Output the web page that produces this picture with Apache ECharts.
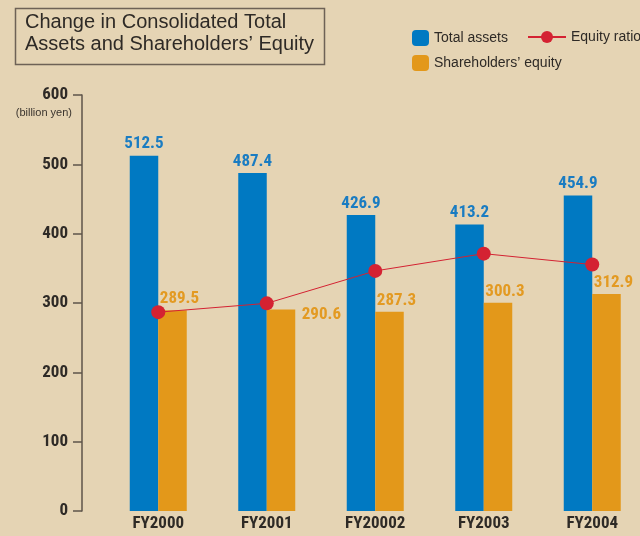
<!DOCTYPE html>
<html>
<head>
<meta charset="utf-8">
<script src="https://cdn.jsdelivr.net/npm/echarts@6/dist/echarts.min.js"></script>
<style>
  html, body { margin: 0; padding: 0; background: #e5d4b4; }
  #root { width: 640px; height: 536px; }
</style>
</head>
<body>
<div id="root"></div>
<script>
const years = ["FY2000", "FY2001", "FY20002", "FY2003", "FY2004"];
const totalAssets = [512.5, 487.4, 426.9, 413.2, 454.9];
const equity = [289.5, 290.6, 287.3, 300.3, 312.9];
// equity ratio (%) (no printed values)
const equityRatio = [56.4, 58.9, 68.1, 73.0, 69.9];
const yTicks = [0, 100, 200, 300, 400, 500, 600];

const numFont = '"Roboto Condensed", "Open Sans Condensed", sans-serif';
const textFont = '"Liberation Sans", Arial, sans-serif';

const blue = "#0079c2";
const orange = "#e3981a";
const red = "#d42232";

const chart = echarts.init(document.getElementById("root"));

chart.setOption({
  backgroundColor: "#e5d4b4",
  animation: false,
  graphic: [
    {
      type: "rect",
      left: 13, top: 6,
      shape: { width: 309, height: 56 },
      style: { fill: "none", stroke: "#6e6256", lineWidth: 1.5 }
    },
    {
      type: "text",
      left: 25, top: 11,
      style: {
        text: "Change in Consolidated Total\nAssets and Shareholders\u2019 Equity",
        font: "20px " + textFont,
        lineHeight: 22,
        fill: "#2e2a26"
      }
    },
    {
      type: "text",
      right: 568, top: 107,
      style: { text: "(billion yen)", font: "11px " + textFont, fill: "#3a342e" }
    }
  ],
  legend: [
    {
      data: ["Total assets"],
      left: 412, top: 30, padding: 0,
      itemWidth: 17, itemHeight: 16,
      textStyle: { fontFamily: textFont, fontSize: 14, color: "#2e2a26" }
    },
    {
      data: ["Equity ratio"],
      left: 527, top: 30, padding: 0,
      itemWidth: 38, itemHeight: 15,
      textStyle: { fontFamily: textFont, fontSize: 14, color: "#2e2a26" }
    },
    {
      data: ["Shareholders\u2019 equity"],
      left: 412, top: 55, padding: 0,
      itemWidth: 17, itemHeight: 16,
      textStyle: { fontFamily: textFont, fontSize: 14, color: "#2e2a26" }
    }
  ],
  grid: { left: 104, width: 542.5, top: 95, bottom: 25, outerBoundsMode: "none" },
  xAxis: {
    type: "category",
    data: years,
    axisLine: { show: false },
    axisTick: { show: false },
    axisLabel: {
      margin: 4,
      fontFamily: numFont, fontWeight: "bold", fontSize: 17, color: "#2e2a26"
    }
  },
  yAxis: [
    {
      type: "value",
      min: yTicks[0], max: yTicks[yTicks.length - 1], interval: 100,
      offset: 22,
      splitLine: { show: false },
      axisLine: { show: true, lineStyle: { color: "#5e544a", width: 1.5 } },
      axisTick: { show: true, length: 9, lineStyle: { color: "#5e544a", width: 1.5 } },
      axisLabel: {
        margin: 14,
        fontFamily: numFont, fontWeight: "bold", fontSize: 17, color: "#2e2a26"
      }
    },
    { type: "value", min: 0, max: 118, show: false }
  ],
  series: [
    {
      name: "Total assets",
      type: "bar",
      data: totalAssets,
      barWidth: 28.5,
      barGap: "0%",
      itemStyle: { color: blue },
      label: {
        show: true, position: "top", distance: 3,
        fontFamily: numFont, fontWeight: "bold", fontSize: 17, color: "#1a7cc2"
      }
    },
    {
      name: "Shareholders\u2019 equity",
      type: "bar",
      data: equity.map((v, i) => i === 1
        ? { value: v, label: { position: [35, -3], offset: [0, 0] } }
        : v),
      barWidth: 28.5,
      itemStyle: { color: orange },
      label: {
        show: true, position: "top", distance: 3, offset: [7, 0],
        fontFamily: numFont, fontWeight: "bold", fontSize: 17, color: "#e39a22"
      }
    },
    {
      name: "Equity ratio",
      type: "line",
      yAxisIndex: 1,
      data: equityRatio,
      z: 5,
      symbol: "circle",
      symbolSize: 14,
      itemStyle: { color: red },
      lineStyle: { color: red, width: 1 }
    }
  ]
});
</script>
</body>
</html>
